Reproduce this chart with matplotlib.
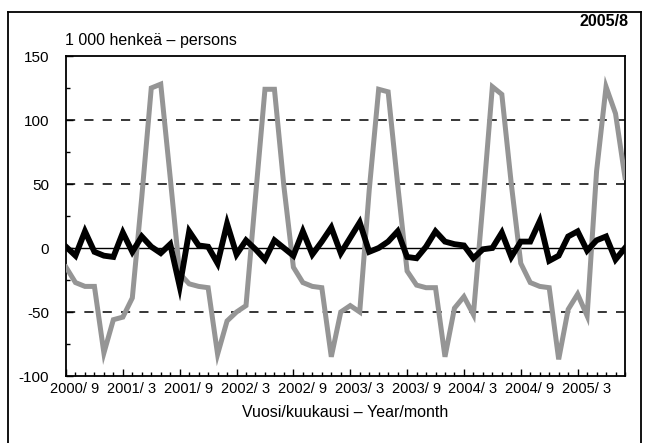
import matplotlib
matplotlib.use("Agg")
import matplotlib.pyplot as plt
import matplotlib.transforms as mtransforms
from matplotlib.lines import Line2D
import numpy as np

plt.rcParams['font.family'] = ['Liberation Sans Narrow', 'Liberation Sans', 'DejaVu Sans']

# monthly data 2000/9 .. 2005/8
months = [f"{y}/{m}" for y in range(2000, 2006) for m in range(1, 13)]
months = months[8:8 + 60]

grey_series = [-15, -27, -30, -30, -82, -56, -54, -39, 40, 125, 128, 55,
               -20, -28, -30, -31, -83, -57, -50, -45, 40, 124, 124, 48,
               -15, -27, -30, -31, -85, -50, -45, -50, 45, 124, 122, 50,
               -18, -29, -31, -31, -85, -47, -38, -52, 35, 126, 120, 50,
               -12, -27, -30, -31, -87, -48, -36, -53, 60, 126, 105, 55]

black_series = [1, -6, 13, -3, -6, -7, 12, -3, 9, 1, -4, 3,
                -30, 13, 2, 1, -12, 19, -5, 6, -1, -9, 6, 0,
                -6, 13, -5, 5, 16, -4, 8, 20, -3, 0, 5, 13,
                -7, -8, 1, 13, 5, 3, 2, -8, -1, 0, 12, -7,
                5, 5, 21, -10, -6, 9, 13, -2, 6, 9, -9, 0]

tick_labels = ["2000/ 9", "2001/ 3", "2001/ 9", "2002/ 3", "2002/ 9",
               "2003/ 3", "2003/ 9", "2004/ 3", "2004/ 9", "2005/ 3"]
y_ticks = [-100, -50, 0, 50, 100, 150]
grid_levels = [-50, 50, 100]

fig = plt.figure(figsize=(6.5, 4.43), dpi=100)
ax = fig.add_axes([66/650, 1-376/443, (625-66)/650, (376-56)/443])

x = np.arange(len(months))
for g in grid_levels:
    ax.axhline(g, color='black', lw=1.1, linestyle=(0, (6, 6)), zorder=1)
ax.axhline(0, color='black', lw=1.0, zorder=2)

ax.plot(x, grey_series, color='#959595', lw=3.6, solid_joinstyle='miter', zorder=3)
ax.plot(x, black_series, color='black', lw=4.2, solid_joinstyle='miter', zorder=4)

ax.set_xlim(0, len(months) - 1)
ax.set_ylim(-100, 150)

ax.set_yticks(y_ticks)
ax.set_yticks([-75, -25, 25, 75, 125], minor=True)
ax.set_yticklabels([str(v) for v in y_ticks], fontsize=11)

ax.set_xticks(x[::6])
ax.set_xticklabels(tick_labels, fontsize=10.5)
ax.set_xticks(x, minor=True)
ax.tick_params(axis='x', which='major', direction='in', length=5, width=1, pad=4)
ax.tick_params(axis='x', which='minor', direction='in', length=3, width=1)
ax.tick_params(axis='y', which='major', direction='in', length=5, width=1, pad=12)
ax.tick_params(axis='y', which='minor', direction='in', length=3, width=1)

offset = mtransforms.ScaledTranslation(9/100, 0, fig.dpi_scale_trans)
for lab in ax.get_xticklabels():
    lab.set_transform(lab.get_transform() + offset)

for sp in ax.spines.values():
    sp.set_linewidth(1.3)
    sp.set_color('black')

ax.set_xlabel("Vuosi/kuukausi – Year/month", fontsize=11.5, labelpad=7)

fig.text(65/650, 1-40/443, "1 000 henkeä – persons", fontsize=11.5, ha='left', va='center')
fig.text(628/650, 1-22/443, "2005/8", fontsize=11.5, fontweight='bold', ha='right', va='center')

# outer frame
fx0, fx1, fy1 = 8/650, 641/650, 1-12/443
fig.add_artist(Line2D([fx0, fx0], [0, fy1], color='black', lw=1.3, transform=fig.transFigure))
fig.add_artist(Line2D([fx1, fx1], [0, fy1], color='black', lw=1.3, transform=fig.transFigure))
fig.add_artist(Line2D([fx0, fx1], [fy1, fy1], color='black', lw=1.3, transform=fig.transFigure))

fig.savefig("out.png", dpi=100)
